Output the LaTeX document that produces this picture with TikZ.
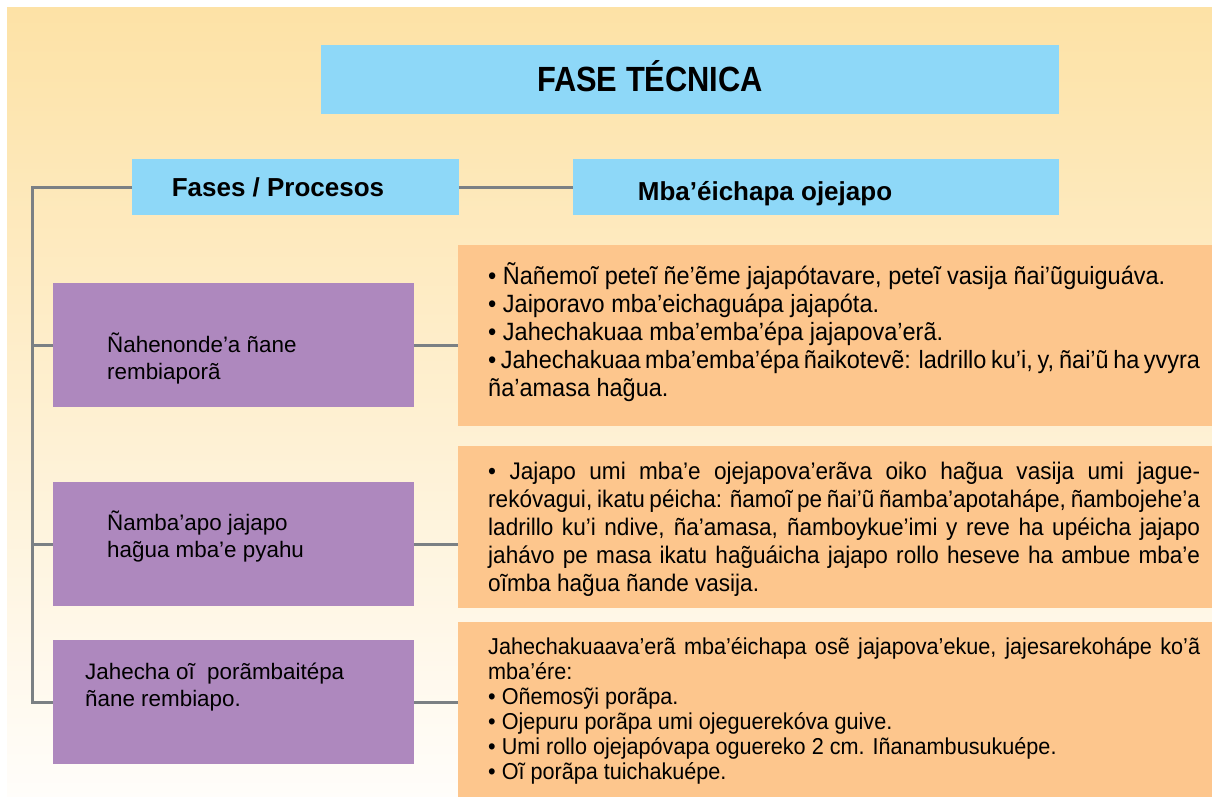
\documentclass[tikz,border=0pt]{standalone}
\usepackage{fontspec}
\setmainfont{Liberation Sans}
\newfontfamily\narrowfont{Liberation Sans}[FakeStretch=0.94,WordSpace={1,1.5,2}]
\newfontfamily\titlefont{Liberation Sans}[FakeStretch=0.88]
\definecolor{bgtop}{HTML}{FDE2A6}
\definecolor{bgbot}{HTML}{FFFDFA}
\definecolor{hblue}{HTML}{8ED8F8}
\definecolor{hpurple}{HTML}{AE88BE}
\definecolor{horange}{HTML}{FDC68D}
\definecolor{hline}{HTML}{7B8084}
\newcommand{\topstrut}{\rule{0pt}{1em}}
\begin{document}
\begin{tikzpicture}[x=1pt,y=-1pt,
  box/.style={rectangle, inner sep=0pt, outer sep=0pt, anchor=north west},
  bluebox/.style={box, fill=hblue},
  pbox/.style={box, fill=hpurple, minimum width=361pt, minimum height=124pt},
  obox/.style={box, fill=horange, minimum width=754pt},
  link/.style={draw=hline, line width=3pt},
  otext/.style={anchor=north west, inner sep=0pt, text width=712pt, align=justify,
    font=\narrowfont\fontsize{25}{28}\selectfont},
  otextmid/.style={otext, font=\narrowfont\fontsize{24}{28}\selectfont},
  otextsmall/.style={otext, font=\narrowfont\fontsize{23}{25}\selectfont},
  ptext/.style={anchor=north west, inner sep=0pt, align=left,
    font=\fontsize{22.4}{27}\selectfont},
  head/.style={anchor=base, inner sep=0pt, font=\bfseries\fontsize{26}{30}\selectfont}]
\useasboundingbox (0,0) rectangle (1212,797);
\shade[top color=bgtop,bottom color=bgbot] (7,8) rectangle (1212,797);

% header boxes
\node[bluebox, minimum width=738pt, minimum height=69pt] (title) at (321,45) {};
\node[anchor=base, inner sep=0pt, font=\titlefont\bfseries\fontsize{35}{40}\selectfont] (titletext) at (650,91.5) {FASE TÉCNICA};
\node[bluebox, minimum width=327pt, minimum height=56pt] (fases) at (132,159) {};
\node[head] (fasestext) at (278,196) {Fases / Procesos};
\node[bluebox, minimum width=486pt, minimum height=56pt] (mba) at (573,159) {};
\node[head] (mbatext) at (765,200) {Mba’éichapa ojejapo};

% purple boxes
\node[pbox] (p1) at (53,283) {};
\node[pbox] (p2) at (53,482) {};
\node[pbox] (p3) at (53,640) {};
\node[ptext] (p1text) at (107,330) {\topstrut Ñahenonde’a ñane\\rembiaporã};
\node[ptext] (p2text) at (107,508) {\topstrut Ñamba’apo jajapo\\hag̃ua mba’e pyahu};
\node[ptext] (p3text) at (85,657) {\topstrut Jahecha oĩ\ \ porãmbaitépa\\ñane rembiapo.};

% orange boxes
\node[obox, minimum height=181pt] (o1) at (458,245) {};
\node[obox, minimum height=162pt] (o2) at (458,446) {};
\node[obox, minimum height=175pt] (o3) at (458,622) {};

\node[otext] (o1text) at (488,259) {\topstrut • Ñañemoĩ peteĩ ñe’ẽme jajapótavare, peteĩ vasija ñai’ũguiguáva.\par
• Jaiporavo mba’eichaguápa jajapóta.\par
• Jahechakuaa mba’emba’épa jajapova’erã.\par
• Jahechakuaa mba’emba’épa ñaikotevẽ: ladrillo ku’i, y, ñai’ũ ha yvyra\linebreak ña’amasa hag̃ua.};

\node[otextmid] (o2text) at (488,455.5) {\topstrut • Jajapo umi mba’e ojejapova’erãva oiko hag̃ua vasija umi jague-\linebreak rekóvagui, ikatu péicha: ñamoĩ pe ñai’ũ ñamba’apotahápe, ñambojehe’a\linebreak ladrillo ku’i ndive, ña’amasa, ñamboykue’imi y reve ha upéicha jajapo\linebreak jahávo pe masa ikatu hag̃uáicha jajapo rollo heseve ha ambue mba’e\linebreak oĩmba hag̃ua ñande vasija.};

\node[otextsmall] (o3text) at (488,631.5) {\topstrut Jahechakuaava’erã mba’éichapa osẽ jajapova’ekue, jajesarekohápe ko’ã\linebreak mba’ére:\par
• Oñemosỹi porãpa.\par
• Ojepuru porãpa umi ojeguerekóva guive.\par
• Umi rollo ojejapóvapa oguereko 2 cm. Iñanambusukuépe.\par
• Oĩ porãpa tuichakuépe.};

% connectors
\coordinate (trunk) at (32,187);
\draw[link] (fases.west) -- (trunk) |- (p3.west);
\draw[link] (trunk |- p1.west) -- (p1.west);
\draw[link] (trunk |- p2.west) -- (p2.west);
\draw[link] (fases.east) -- (mba.west);
\draw[link] (p1.east) -- (o1.west |- p1.east);
\draw[link] (p2.east) -- (o2.west |- p2.east);
\draw[link] (p3.east) -- (o3.west |- p3.east);
\end{tikzpicture}
\end{document}
